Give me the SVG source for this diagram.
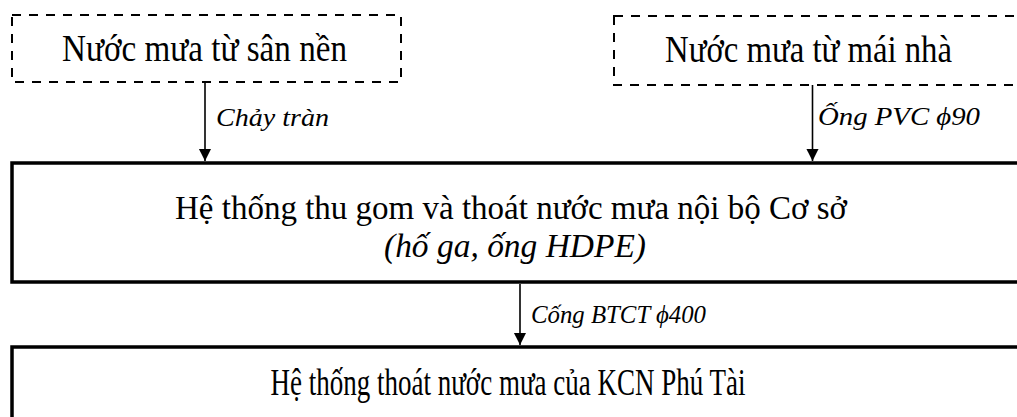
<svg xmlns="http://www.w3.org/2000/svg" width="1017" height="417" viewBox="0 0 1017 417">
  <defs>
    <marker id="arrow" viewBox="0 0 13 14" refX="13" refY="6.5" markerWidth="14" markerHeight="13" markerUnits="userSpaceOnUse" orient="auto">
      <path d="M0,0 L13,6.5 L0,13 Z" fill="#000"/>
    </marker>
    <style>
      .src { fill: #fff; stroke: #000; stroke-width: 2; stroke-dasharray: 9 8; }
      .sys { fill: #fff; stroke: #000; stroke-width: 3.5; }
      .lbl { font-family: "Liberation Serif", "Times New Roman", serif; fill: #000; }
      .big { font-size: 37px; }
      .mid { font-size: 34px; }
      .small { font-size: 26px; font-style: italic; }
      .edge { stroke: #000; stroke-width: 1.6; fill: none; marker-end: url(#arrow); }
    </style>
  </defs>
  <rect width="1017" height="417" fill="#fff"/>

  <!-- rainwater sources -->
  <g id="node-yard">
    <rect class="src" x="12" y="15" width="389" height="67"/>
    <text class="lbl big" x="62" y="61" textLength="285" lengthAdjust="spacingAndGlyphs">Nước mưa từ sân nền</text>
  </g>
  <g id="node-roof">
    <rect class="src" x="614" y="16" width="420" height="69"/>
    <text class="lbl big" x="665" y="62" textLength="287" lengthAdjust="spacingAndGlyphs">Nước mưa từ mái nhà</text>
  </g>

  <!-- internal collection system -->
  <g id="node-internal">
    <rect class="sys" x="12" y="163" width="1030" height="119"/>
    <text class="lbl mid" x="511" y="219" text-anchor="middle" textLength="672" lengthAdjust="spacingAndGlyphs">Hệ thống thu gom và thoát nước mưa nội bộ Cơ sở</text>
    <text class="lbl mid" x="515" y="257" text-anchor="middle" font-style="italic" textLength="262" lengthAdjust="spacingAndGlyphs">(hố ga, ống HDPE)</text>
  </g>

  <!-- industrial park drainage -->
  <g id="node-kcn">
    <rect class="sys" x="12" y="347" width="1030" height="100"/>
    <text class="lbl big" x="508" y="395" text-anchor="middle" textLength="475" lengthAdjust="spacingAndGlyphs">Hệ thống thoát nước mưa của KCN Phú Tài</text>
  </g>

  <!-- connectors -->
  <g id="connectors">
    <line class="edge" x1="205" y1="83" x2="205" y2="161"/>
    <text class="lbl small" x="216" y="126" textLength="113" lengthAdjust="spacingAndGlyphs">Chảy tràn</text>
    <line class="edge" x1="812.5" y1="85" x2="812.5" y2="161"/>
    <text class="lbl small" x="818" y="125" textLength="162" lengthAdjust="spacingAndGlyphs">Ống PVC  ϕ90</text>
    <line class="edge" x1="520" y1="284" x2="520" y2="345"/>
    <text class="lbl small" x="531" y="323" textLength="175" lengthAdjust="spacingAndGlyphs">Cống BTCT ϕ400</text>
  </g>
</svg>
